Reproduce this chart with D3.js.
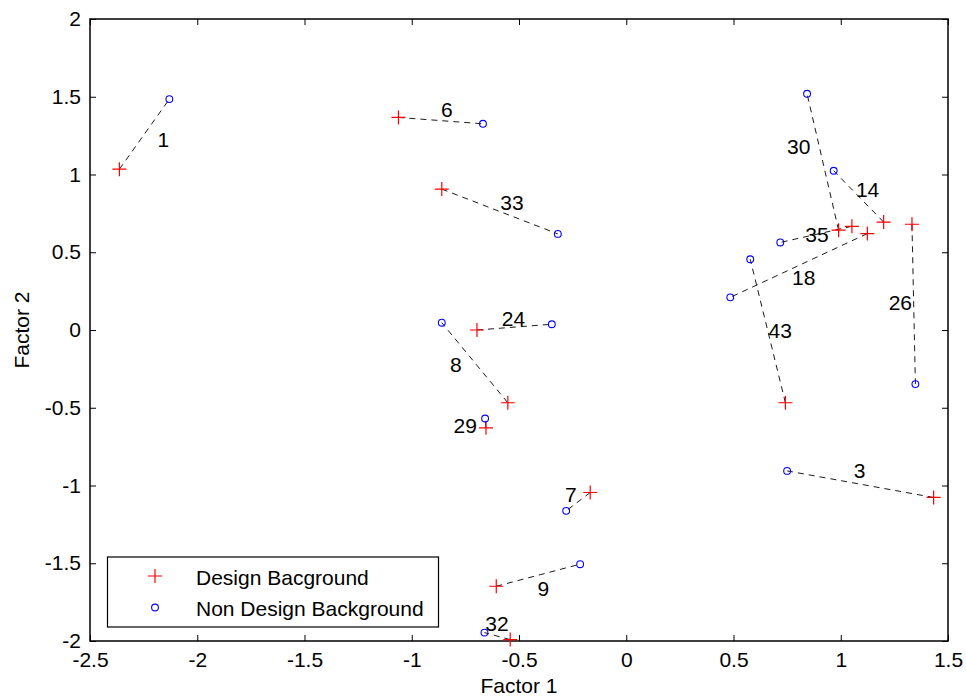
<!DOCTYPE html>
<html>
<head>
<meta charset="utf-8">
<script src="https://cdn.jsdelivr.net/npm/d3@7/dist/d3.min.js"></script>
<style>
  html, body { margin: 0; padding: 0; background: #fff; }
  svg { display: block; font-family: "Liberation Sans", Arial, Helvetica, sans-serif; }
</style>
</head>
<body>
<svg id="chart" width="966" height="697"></svg>
<script>
// Case numbers for each respondent pair
const caseIds = ["1", "6", "33", "30", "14", "35", "18", "43", "26", "24", "8", "29", "7", "3", "9", "32"];

// Design background scores (Factor 1, Factor 2)
const designF1 = [-2.363, -1.062, -0.860, 0.990, 1.200, 1.052, 1.124, 0.742, 1.332, -0.696, -0.552, -0.654, -0.168, 1.433, -0.606, -0.541];
const designF2 = [1.034, 1.367, 0.906, 0.642, 0.694, 0.667, 0.620, -0.468, 0.680, 0.000, -0.468, -0.629, -1.045, -1.077, -1.648, -1.991];

// Non design background scores (Factor 1, Factor 2)
const nonDesignF1 = [-2.130, -0.668, -0.319, 0.843, 0.967, 0.718, 0.485, 0.578, 1.348, -0.347, -0.860, -0.658, -0.280, 0.750, -0.215, -0.661];
const nonDesignF2 = [1.485, 1.326, 0.618, 1.519, 1.024, 0.563, 0.210, 0.455, -0.348, 0.037, 0.047, -0.569, -1.163, -0.906, -1.506, -1.946];

// Where each case number is written (Factor 1, Factor 2)
const labelF1 = [-2.158, -0.836, -0.533, 0.804, 1.125, 0.889, 0.827, 0.718, 1.278, -0.526, -0.794, -0.751, -0.258, 1.088, -0.386, -0.603];
const labelF2 = [1.223, 1.416, 0.819, 1.180, 0.901, 0.611, 0.339, 0.000, 0.176, 0.071, -0.219, -0.612, -1.056, -0.901, -1.663, -1.888];

// Axis ticks
const xTicks = [-2.5, -2, -1.5, -1, -0.5, 0, 0.5, 1, 1.5];
const yTicks = [-2, -1.5, -1, -0.5, 0, 0.5, 1, 1.5, 2];

const legendLabels = ["Design Bacground", "Non Design Background"];

const svg = d3.select("#chart");
const plotLeft = 90, plotRight = 948, plotTop = 19, plotBottom = 641;
const fontSize = 21;

const x = d3.scaleLinear().domain([-2.5, 1.5]).range([plotLeft, plotRight]);
const y = d3.scaleLinear().domain([-2, 2]).range([plotBottom, plotTop]);

const fmt = d => String(d);

// Axes with inward ticks, mirrored on the top and right edges
const gx = svg.append("g").attr("transform", `translate(0,${plotBottom})`)
  .call(d3.axisBottom(x).tickValues(xTicks).tickSize(-6).tickPadding(11).tickFormat(fmt));
const gxTop = svg.append("g").attr("transform", `translate(0,${plotTop})`)
  .call(d3.axisTop(x).tickValues(xTicks).tickSize(-6).tickFormat(""));
const gy = svg.append("g").attr("transform", `translate(${plotLeft},0)`)
  .call(d3.axisLeft(y).tickValues(yTicks).tickSize(-6).tickPadding(9).tickFormat(fmt));
const gyRight = svg.append("g").attr("transform", `translate(${plotRight},0)`)
  .call(d3.axisRight(y).tickValues(yTicks).tickSize(-6).tickFormat(""));

[gx, gxTop, gy, gyRight].forEach(g => {
  g.select(".domain").remove();
  g.selectAll(".tick line").attr("stroke", "#000").attr("stroke-width", 1);
  g.selectAll("text").attr("font-size", fontSize).attr("fill", "#000")
    .attr("font-family", "'Liberation Sans', Arial, sans-serif");
});
gx.selectAll("text").attr("dy", "0.71em");

// Plot box
svg.append("rect")
  .attr("x", plotLeft).attr("y", plotTop)
  .attr("width", plotRight - plotLeft).attr("height", plotBottom - plotTop)
  .attr("fill", "none").attr("stroke", "#000").attr("stroke-width", 1.5);

// Axis titles
svg.append("text")
  .attr("x", 519).attr("y", 693)
  .attr("text-anchor", "middle").attr("font-size", fontSize)
  .text("Factor 1");
svg.append("text")
  .attr("transform", `translate(29,${(plotTop + plotBottom) / 2}) rotate(-90)`)
  .attr("text-anchor", "middle").attr("font-size", fontSize)
  .text("Factor 2");

const pairs = caseIds.map((id, i) => ({
  id,
  dx: designF1[i], dy: designF2[i],
  nx: nonDesignF1[i], ny: nonDesignF2[i],
  lx: labelF1[i], ly: labelF2[i]
}));

const plot = svg.append("g");

// Dashed connectors between the two scores of a case
plot.selectAll("line.link").data(pairs).join("line")
  .attr("class", "link")
  .attr("x1", d => x(d.dx)).attr("y1", d => y(d.dy))
  .attr("x2", d => x(d.nx)).attr("y2", d => y(d.ny))
  .attr("stroke", "#000").attr("stroke-width", 0.9)
  .attr("stroke-dasharray", "6,5");

// Case numbers
plot.selectAll("text.case").data(pairs).join("text")
  .attr("class", "case")
  .attr("x", d => x(d.lx)).attr("y", d => y(d.ly))
  .attr("text-anchor", "middle").attr("dominant-baseline", "central")
  .attr("font-size", fontSize).attr("fill", "#000")
  .text(d => d.id);

// Markers
const plusPath = s => `M${-s},0H${s}M0,${-s}V${s}`;
plot.selectAll("path.design").data(pairs).join("path")
  .attr("class", "design")
  .attr("transform", d => `translate(${x(d.dx)},${y(d.dy)})`)
  .attr("d", plusPath(7))
  .attr("stroke", "#ff0000").attr("stroke-width", 1.2).attr("fill", "none");

plot.selectAll("circle.nondesign").data(pairs).join("circle")
  .attr("class", "nondesign")
  .attr("cx", d => x(d.nx)).attr("cy", d => y(d.ny))
  .attr("r", 3.4)
  .attr("stroke", "#0000ff").attr("stroke-width", 1.1).attr("fill", "none");

// Legend
const lg = svg.append("g");
lg.append("rect")
  .attr("x", 107.5).attr("y", 557).attr("width", 331).attr("height", 70)
  .attr("fill", "#fff").attr("stroke", "#000").attr("stroke-width", 1.2);
lg.append("path")
  .attr("transform", "translate(155,576)")
  .attr("d", plusPath(7))
  .attr("stroke", "#ff0000").attr("stroke-width", 1.2).attr("fill", "none");
lg.append("circle")
  .attr("cx", 155).attr("cy", 607.5).attr("r", 3.4)
  .attr("stroke", "#0000ff").attr("stroke-width", 1.1).attr("fill", "none");
lg.selectAll("text").data(legendLabels).join("text")
  .attr("x", 196).attr("y", (d, i) => 577 + i * 31.5)
  .attr("dominant-baseline", "central")
  .attr("font-size", fontSize).attr("fill", "#000")
  .text(d => d);
</script>
</body>
</html>
